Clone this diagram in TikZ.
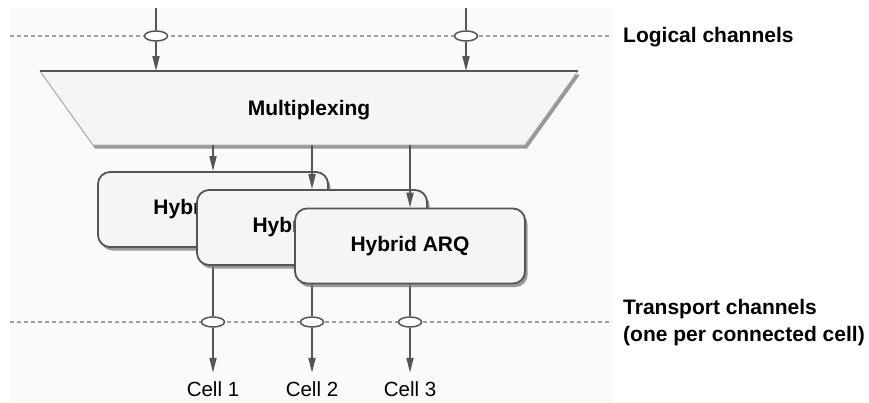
\documentclass[tikz,border=0pt]{standalone}
\usepackage{fontspec}
\setmainfont{Liberation Sans}
\usetikzlibrary{arrows.meta,shapes.geometric,shadows}
\definecolor{linegray}{HTML}{555555}
\definecolor{dashgray}{HTML}{9E9E9E}
\pgfdeclarelayer{bg}
\pgfdeclarelayer{back}
\pgfsetlayers{bg,back,main}
\begin{document}
\begin{tikzpicture}[x=1pt,y=-1pt,
  arr/.style={draw=linegray, line width=1.8pt, -{Triangle[length=15pt,width=7pt]}},
  plain/.style={draw=linegray, line width=1.8pt},
  chan/.style={draw=dashgray, line width=1.4pt, dash pattern=on 4pt off 3pt},
  port/.style={ellipse, draw=linegray, fill=white, line width=1.5pt, minimum width=23pt, minimum height=10pt, inner sep=0pt},
  harq/.style={draw=linegray, line width=1.8pt, fill=black!4, rounded corners=12pt, minimum width=230pt, minimum height=75pt, font=\bfseries\fontsize{21}{25}\selectfont, drop shadow={shadow xshift=2.5pt, shadow yshift=-3.5pt, fill=black!50, opacity=0.8}},
  lbl/.style={font=\bfseries\fontsize{21}{27}\selectfont, align=left, anchor=west, inner sep=0pt},
  cell/.style={font=\fontsize{20.5}{24}\selectfont, inner sep=0pt}
]
\useasboundingbox (0,0) rectangle (869,402);
\begin{pgfonlayer}{bg}
  \fill[black!2] (10,8) rectangle (613,402);
  \coordinate (lcL) at (10,36); \coordinate (lcR) at (612,36);
  \draw[chan] (lcL) -- (lcR);
  \coordinate (tcL) at (10,322); \coordinate (tcR) at (612,322);
  \draw[chan] (tcL) -- (tcR);
\end{pgfonlayer}

\node[lbl] (lclab) at (623,37) {Logical channels};
\node[lbl] (tclab) at (623,323) {Transport channels\\(one per connected cell)};

% multiplexing trapezoid
\coordinate (mTL) at (40,71); \coordinate (mTR) at (578,71);
\coordinate (mBR) at (525,145); \coordinate (mBL) at (93,145);
\fill[black!4, drop shadow={shadow xshift=2pt, shadow yshift=-3.5pt, fill=black!50, opacity=0.8}] (mTL) -- (mTR) -- (mBR) -- (mBL) -- cycle;
\draw[black!35, line width=0.8pt] (mTL) -- (mBL) -- (mBR) -- (mTR);
\draw[linegray, line width=1.8pt] (mTL) -- (mTR);
\node[font=\bfseries\fontsize{21}{25}\selectfont] (mux) at (309,110) {Multiplexing};

% logical channel inputs
\coordinate (in1) at (156,8); \coordinate (in2) at (466,8);
\node[port] (p1) at (156,36) {};
\node[port] (p2) at (466,36) {};
\coordinate (m1) at (156,71); \coordinate (m2) at (466,71);
\draw[plain] (in1) -- (p1.north);
\draw[plain] (in2) -- (p2.north);
\draw[arr] (p1.south) -- (m1);
\draw[arr] (p2.south) -- (m2);

% hybrid ARQ boxes
\node[harq] (h1) at (213,209.5) {Hybrid ARQ};
\node[harq] (h2) at (312,227.5) {Hybrid ARQ};
\node[harq] (h3) at (410,246) {Hybrid ARQ};

% mux outputs
\coordinate (mo1) at (213,145); \coordinate (mo2) at (312,145); \coordinate (mo3) at (410,145);
\draw[arr] (mo1) -- (h1.north);
\draw[arr] (mo2) -- (h2.north);
\draw[arr] (mo3) -- (h3.north);

% transport channels
\node[port] (q1) at (213,322) {};
\node[port] (q2) at (312,322) {};
\node[port] (q3) at (410,322) {};
\node[cell] (c1) at (213,389.5) {Cell 1};
\node[cell] (c2) at (312,389.5) {Cell 2};
\node[cell] (c3) at (410,389.5) {Cell 3};
\begin{pgfonlayer}{back}
  \draw[plain] (h1.south) -- (q1.north);
  \draw[plain] (h2.south) -- (q2.north);
  \draw[plain] (h3.south) -- (q3.north);
\end{pgfonlayer}
\draw[arr, shorten >=9pt] (q1.south) -- (c1.north);
\draw[arr, shorten >=9pt] (q2.south) -- (c2.north);
\draw[arr, shorten >=9pt] (q3.south) -- (c3.north);
\end{tikzpicture}
\end{document}
